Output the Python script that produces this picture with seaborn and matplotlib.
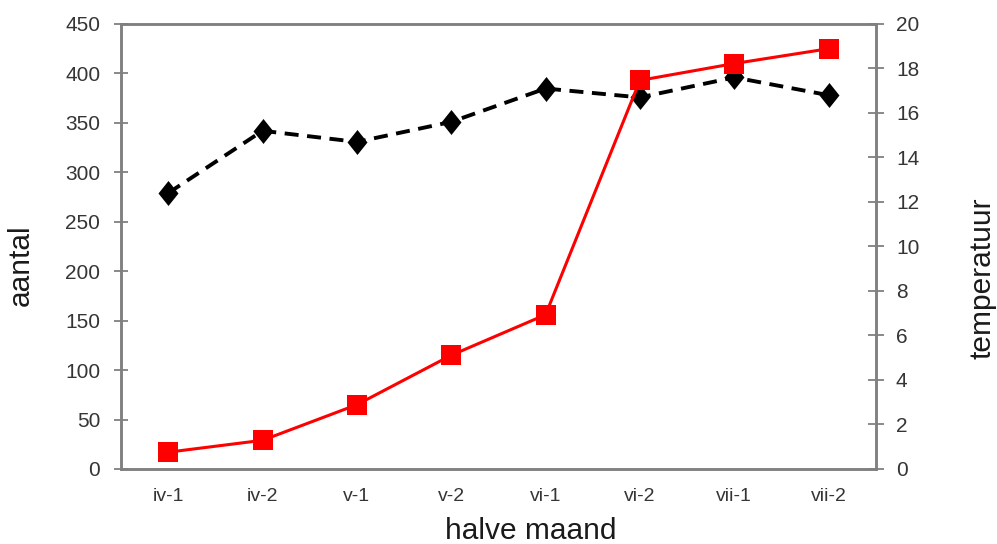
import matplotlib
matplotlib.use("Agg")
import matplotlib.pyplot as plt
import seaborn as sns
import pandas as pd
from matplotlib.ticker import FixedLocator, MultipleLocator

halve_maand = ["iv-1", "iv-2", "v-1", "v-2", "vi-1", "vi-2", "vii-1", "vii-2"]
aantal = [17, 29, 65, 115, 156, 393, 410, 425]
temperatuur = [12.4, 15.2, 14.7, 15.6, 17.1, 16.7, 17.6, 16.8]

sns.set_theme(style="white")
plt.rcParams["font.family"] = ["Liberation Sans", "DejaVu Sans"]

df = pd.DataFrame({"pos": range(len(halve_maand)), "aantal": aantal,
                   "temperatuur": temperatuur})

fig = plt.figure(figsize=(9.97, 5.44), dpi=100)
ax = fig.add_axes([0.1214, 0.1379, 0.757, 0.818])
ax2 = ax.twinx()

# slightly tall diamond for the temperature series
diamond = [(0, -1), (0.8, 0), (0, 1), (-0.8, 0), (0, -1)]

sns.lineplot(data=df, x="pos", y="temperatuur", ax=ax2, color="black",
             linewidth=2.8, linestyle=(0, (3.6, 2.2)), marker=diamond,
             markersize=18, markeredgewidth=0)
sns.lineplot(data=df, x="pos", y="aantal", ax=ax, color="#ff0000",
             linewidth=2.2, marker="s", markersize=14.5, markeredgewidth=0)

# red series drawn on top of the dashed one
ax.set_zorder(ax2.get_zorder() + 1)
ax.patch.set_visible(False)

spine_c = "#808080"
text_c = "#353535"
label_c = "#1a1a1a"

ax.set_xlim(-0.5, len(halve_maand) - 0.5)
ax.set_ylim(0, 450)
ax2.set_ylim(0, 20)
ax.yaxis.set_major_locator(MultipleLocator(50))
ax2.yaxis.set_major_locator(MultipleLocator(2))

ax.set_xticks(range(len(halve_maand)))
ax.set_xticklabels(halve_maand)
ax.xaxis.set_minor_locator(FixedLocator([i + 0.5 for i in range(-1, len(halve_maand))]))
ax.tick_params(axis="x", which="major", length=0, pad=14, labelsize=14, labelcolor=text_c)
ax.tick_params(axis="x", which="minor", length=6.5, width=1.3, color=spine_c, direction="out")
ax.tick_params(axis="y", length=10, width=1.3, color=spine_c, direction="inout",
               labelsize=15, labelcolor=text_c, left=True, pad=10)
ax2.tick_params(axis="y", length=11, width=1.3, color=spine_c, direction="inout",
                labelsize=15, labelcolor=text_c, right=True, pad=9)

for a in (ax, ax2):
    for s in a.spines.values():
        s.set_color(spine_c)
        s.set_linewidth(1.8)

ax.set_xlabel("halve maand", fontsize=21.5, color=label_c, va="center")
ax.xaxis.set_label_coords(0.543, -0.139)
ax.set_ylabel("aantal", fontsize=21.5, color=label_c, va="center")
ax.yaxis.set_label_coords(-0.1325, 0.458)
ax2.set_ylabel("temperatuur", fontsize=21.5, color=label_c, va="center", rotation=90)
ax2.yaxis.set_label_coords(1.141, 0.428)
ax.grid(False)
ax2.grid(False)

fig.savefig("out.png", dpi=100, facecolor="white")
